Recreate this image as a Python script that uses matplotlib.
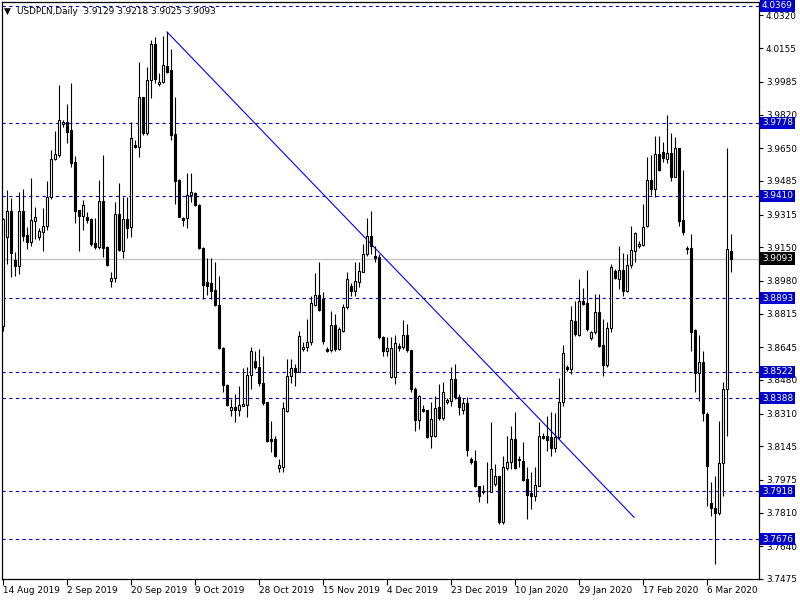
import numpy as np
import matplotlib.pyplot as plt

# daily OHLC, USDPLN, 14 Aug 2019 .. 10 Mar 2020
opens = [
    3.8752, 3.9200, 3.9331, 3.9084, 3.9054, 3.9331, 3.9210, 3.9175, 3.9280, 3.9200,
    3.9225, 3.9255, 3.9406, 3.9597, 3.9618, 3.9774, 3.9784, 3.9743, 3.9582, 3.9336,
    3.9310, 3.9305, 3.9290, 3.9169, 3.9149, 3.9381, 3.9149, 3.8978, 3.8993, 3.9320,
    3.9129, 3.9290, 3.9250, 3.9668, 3.9658, 3.9910, 3.9728, 3.9995, 4.0177, 3.9975,
    3.9985, 4.0066, 4.0045, 3.9723, 3.9487, 3.9295, 3.9295, 3.9416, 3.9426, 3.9361,
    3.9144, 3.8973, 3.8968, 3.8933, 3.8857, 3.8641, 3.8454, 3.8329, 3.8344, 3.8329,
    3.8349, 3.8354, 3.8505, 3.8575, 3.8545, 3.8464, 3.8369, 3.8183, 3.8183, 3.8037,
    3.8042, 3.8324, 3.8500, 3.8540, 3.8520, 3.8636, 3.8646, 3.8671, 3.8857, 3.8908,
    3.8888, 3.8636, 3.8631, 3.8757, 3.8636, 3.8726, 3.8847, 3.8953, 3.8928, 3.8973,
    3.9023, 3.9114, 3.9205, 3.9104, 3.9099, 3.8696, 3.8626, 3.8495, 3.8495, 3.8651,
    3.8646, 3.8706, 3.8631, 3.8434, 3.8278, 3.8334, 3.8329, 3.8198, 3.8198, 3.8344,
    3.8288, 3.8369, 3.8374, 3.8485, 3.8394, 3.8329, 3.8364, 3.8082, 3.8072, 3.7946,
    3.7921, 3.7921, 3.7916, 3.7956, 3.7997, 3.7765, 3.8037, 3.8067, 3.8183, 3.8082,
    3.8072, 3.7981, 3.7911, 3.7896, 3.7946, 3.8198, 3.8198, 3.8193, 3.8137, 3.8193,
    3.8369, 3.8545, 3.8535, 3.8777, 3.8706, 3.8877, 3.8867, 3.8691, 3.8721, 3.8822,
    3.8656, 3.8555, 3.8741, 3.9028, 3.8988, 3.9033, 3.8928, 3.9059, 3.9129, 3.9154,
    3.9159, 3.9255, 3.9487, 3.9446, 3.9623, 3.9633, 3.9597, 3.9628, 3.9502, 3.9653,
    3.9285, 3.9144, 3.9144, 3.8731, 3.8515, 3.8570, 3.8308, 3.7860, 3.7835, 3.7810,
    3.8062, 3.8434, 3.9129,
]
highs = [
    3.9300, 3.9441, 3.9401, 3.9124, 3.9431, 3.9446, 3.9250, 3.9497, 3.9351, 3.9245,
    3.9346, 3.9482, 3.9643, 3.9738, 3.9970, 3.9794, 3.9874, 3.9980, 3.9613, 3.9336,
    3.9386, 3.9326, 3.9295, 3.9295, 3.9487, 3.9618, 3.9154, 3.9023, 3.9376, 3.9472,
    3.9406, 3.9406, 3.9784, 3.9693, 4.0086, 3.9910, 4.0061, 4.0197, 4.0212, 4.0030,
    4.0217, 4.0237, 4.0151, 3.9910, 3.9492, 3.9305, 3.9527, 3.9527, 3.9431, 3.9366,
    3.9149, 3.9094, 3.9094, 3.9074, 3.9003, 3.8646, 3.8459, 3.8384, 3.8409, 3.8449,
    3.8540, 3.8545, 3.8646, 3.8626, 3.8636, 3.8600, 3.8369, 3.8273, 3.8198, 3.8082,
    3.8369, 3.8585, 3.8585, 3.8560, 3.8726, 3.8671, 3.8787, 3.8903, 3.9018, 3.9074,
    3.8923, 3.8646, 3.8827, 3.8812, 3.8746, 3.8862, 3.9023, 3.8968, 3.9074, 3.9074,
    3.9164, 3.9300, 3.9331, 3.9154, 3.9114, 3.8701, 3.8696, 3.8696, 3.8706, 3.8666,
    3.8782, 3.8762, 3.8631, 3.8444, 3.8404, 3.8354, 3.8329, 3.8369, 3.8399, 3.8459,
    3.8469, 3.8389, 3.8545, 3.8560, 3.8409, 3.8389, 3.8394, 3.8092, 3.8127, 3.7946,
    3.7951, 3.8067, 3.8268, 3.8057, 3.7997, 3.8097, 3.8198, 3.8248, 3.8318, 3.8097,
    3.8168, 3.8042, 3.8017, 3.8042, 3.8268, 3.8213, 3.8299, 3.8318, 3.8313, 3.8490,
    3.8656, 3.8555, 3.8852, 3.8877, 3.8988, 3.8943, 3.9033, 3.8726, 3.8913, 3.8913,
    3.8787, 3.8772, 3.9064, 3.9038, 3.9154, 3.9119, 3.9114, 3.9255, 3.9225, 3.9180,
    3.9366, 3.9608, 3.9618, 3.9713, 3.9713, 3.9683, 3.9819, 3.9728, 3.9708, 3.9653,
    3.9542, 3.9154, 3.9215, 3.8736, 3.8706, 3.8626, 3.8318, 3.7966, 3.7997, 3.8273,
    3.8469, 3.9653, 3.9218,
]
lows = [
    3.8726, 3.9064, 3.8998, 3.9003, 3.9013, 3.9180, 3.9139, 3.9154, 3.9190, 3.9185,
    3.9129, 3.9235, 3.9391, 3.9592, 3.9608, 3.9759, 3.9678, 3.9557, 3.9270, 3.9129,
    3.9235, 3.9270, 3.9154, 3.9139, 3.9139, 3.9099, 3.9054, 3.8948, 3.8973, 3.9129,
    3.9094, 3.9195, 3.9200, 3.9653, 3.9608, 3.9718, 3.9718, 3.9905, 3.9980, 3.9965,
    3.9980, 4.0030, 3.9693, 3.9366, 3.9305, 3.9255, 3.9245, 3.9376, 3.9356, 3.9139,
    3.8888, 3.8908, 3.8888, 3.8852, 3.8636, 3.8419, 3.8349, 3.8299, 3.8268, 3.8299,
    3.8349, 3.8294, 3.8434, 3.8535, 3.8449, 3.8354, 3.8168, 3.8117, 3.8092, 3.8017,
    3.8017, 3.8318, 3.8464, 3.8449, 3.8520, 3.8626, 3.8626, 3.8656, 3.8852, 3.8827,
    3.8661, 3.8621, 3.8621, 3.8626, 3.8631, 3.8721, 3.8837, 3.8903, 3.8903, 3.8948,
    3.9023, 3.9104, 3.9114, 3.9074, 3.8686, 3.8600, 3.8600, 3.8490, 3.8459, 3.8626,
    3.8636, 3.8621, 3.8419, 3.8223, 3.8233, 3.8318, 3.8188, 3.8137, 3.8193, 3.8278,
    3.8278, 3.8359, 3.8349, 3.8384, 3.8303, 3.8308, 3.8097, 3.8057, 3.7941, 3.7865,
    3.7906, 3.7860, 3.7916, 3.7946, 3.7755, 3.7755, 3.8027, 3.8032, 3.8032, 3.8042,
    3.7971, 3.7780, 3.7830, 3.7870, 3.7946, 3.8183, 3.8122, 3.8097, 3.8117, 3.8183,
    3.8349, 3.8525, 3.8510, 3.8701, 3.8701, 3.8857, 3.8726, 3.8681, 3.8711, 3.8646,
    3.8500, 3.8545, 3.8721, 3.8988, 3.8938, 3.8903, 3.8923, 3.9044, 3.9074, 3.9144,
    3.9154, 3.9250, 3.9416, 3.9406, 3.9537, 3.9582, 3.9577, 3.9482, 3.9502, 3.9255,
    3.9210, 3.9114, 3.8626, 3.8419, 3.8374, 3.8273, 3.7845, 3.7795, 3.7553, 3.7800,
    3.7896, 3.8198, 3.9025,
]
closes = [
    3.9290, 3.9331, 3.9119, 3.9054, 3.9331, 3.9205, 3.9175, 3.9285, 3.9305, 3.9230,
    3.9255, 3.9406, 3.9597, 3.9623, 3.9794, 3.9784, 3.9733, 3.9577, 3.9331, 3.9310,
    3.9361, 3.9285, 3.9164, 3.9149, 3.9381, 3.9144, 3.9059, 3.8993, 3.9320, 3.9134,
    3.9290, 3.9245, 3.9703, 3.9658, 3.9910, 3.9728, 3.9995, 4.0177, 4.0000, 3.9985,
    4.0071, 4.0035, 3.9718, 3.9482, 3.9305, 3.9285, 3.9416, 3.9431, 3.9361, 3.9144,
    3.8958, 3.8953, 3.8928, 3.8857, 3.8641, 3.8454, 3.8354, 3.8344, 3.8329, 3.8354,
    3.8359, 3.8505, 3.8626, 3.8545, 3.8464, 3.8364, 3.8173, 3.8173, 3.8097, 3.8052,
    3.8339, 3.8500, 3.8540, 3.8520, 3.8701, 3.8646, 3.8671, 3.8867, 3.8908, 3.8832,
    3.8676, 3.8626, 3.8757, 3.8636, 3.8736, 3.8847, 3.8988, 3.8928, 3.8978, 3.9028,
    3.9114, 3.9205, 3.9154, 3.9094, 3.8696, 3.8626, 3.8641, 3.8641, 3.8666, 3.8641,
    3.8706, 3.8631, 3.8434, 3.8278, 3.8399, 3.8324, 3.8193, 3.8283, 3.8339, 3.8288,
    3.8419, 3.8379, 3.8485, 3.8394, 3.8344, 3.8364, 3.8127, 3.8067, 3.7946, 3.7896,
    3.7916, 3.7918, 3.8032, 3.7997, 3.7765, 3.8042, 3.8067, 3.8183, 3.8037, 3.8077,
    3.7976, 3.7901, 3.7896, 3.7951, 3.8198, 3.8188, 3.8178, 3.8137, 3.8193, 3.8369,
    3.8616, 3.8535, 3.8782, 3.8711, 3.8877, 3.8862, 3.8736, 3.8721, 3.8822, 3.8651,
    3.8555, 3.8741, 3.9049, 3.8993, 3.9033, 3.8928, 3.9059, 3.9134, 3.9220, 3.9164,
    3.9250, 3.9487, 3.9446, 3.9623, 3.9542, 3.9602, 3.9628, 3.9507, 3.9653, 3.9280,
    3.9225, 3.9141, 3.8721, 3.8515, 3.8570, 3.8313, 3.8047, 3.7835, 3.7810, 3.8062,
    3.8434, 3.9139, 3.9093,
]

# horizontal levels and the trend line (bar index, price)
levels = [4.0369, 3.9778, 3.9410, 3.8893, 3.8522, 3.8388, 3.7918, 3.7676]
last_price = 3.9093
trend_x = [41, 157.75]
trend_y = [4.0237, 3.7787]

price_ticks = [4.0320, 4.0155, 3.9985, 3.9820, 3.9650, 3.9485, 3.9315, 3.9150,
               3.8980, 3.8815, 3.8645, 3.8480, 3.8310, 3.8145, 3.7975, 3.7810,
               3.7640, 3.7475]
date_labels = ["14 Aug 2019", "2 Sep 2019", "20 Sep 2019", "9 Oct 2019",
               "28 Oct 2019", "15 Nov 2019", "4 Dec 2019", "23 Dec 2019",
               "10 Jan 2020", "29 Jan 2020", "17 Feb 2020", "6 Mar 2020"]
date_every = 16

o, h, l, c = map(np.array, (opens, highs, lows, closes))
x = np.arange(len(o))

fig = plt.figure(figsize=(8, 6), dpi=100)
ax = fig.add_axes([2 / 800, 21 / 600, 757 / 800, 577 / 600])

# candles
ax.vlines(x, l, h, color="black", lw=0.8, zorder=3)
up = c >= o
ax.bar(x, np.abs(c - o), bottom=np.minimum(o, c), width=0.5,
       color=np.where(up, "white", "black"), edgecolor="black",
       linewidth=0.8, zorder=4)

# levels
for lv in levels:
    ax.axhline(lv, color="#0000cc", lw=0.8, ls=(0, (3, 3)), zorder=2)
    ax.annotate(f"{lv:.4f}", xy=(1.004, lv), xycoords=("axes fraction", "data"),
                va="center", ha="left", fontsize=6.4, color="white",
                annotation_clip=False, zorder=10,
                bbox=dict(boxstyle="square,pad=0.18", fc="#0000cc", ec="none"))
ax.axhline(last_price, color="#c0c0c0", lw=0.9, zorder=1)
ax.annotate(f"{last_price:.4f}", xy=(1.004, last_price),
            xycoords=("axes fraction", "data"), va="center", ha="left",
            fontsize=6.4, color="white", annotation_clip=False, zorder=10,
            bbox=dict(boxstyle="square,pad=0.18", fc="black", ec="none"))

ax.plot(trend_x, trend_y, color="#0000ff", lw=0.8, zorder=2)

ax.set_xlim(-0.25, 189)
ax.set_ylim(3.7483, 4.0388)

ax.yaxis.tick_right()
ax.set_yticks(price_ticks)
ax.set_yticklabels([f"{p:.4f}" for p in price_ticks], fontsize=6.4)
ax.tick_params(axis="y", direction="out", length=3, width=0.8, pad=2)

ax.set_xticks(np.arange(len(date_labels)) * date_every)
ax.set_xticklabels(date_labels, fontsize=6.4, ha="left")
ax.tick_params(axis="x", direction="out", length=4, width=0.8, pad=1)

for s in ax.spines.values():
    s.set_linewidth(0.9)

fig.text(4 / 800, 1 - 11 / 600, "\u25bc", fontsize=6.5, va="center")
fig.text(17 / 800, 1 - 11 / 600, "USDPLN,Daily  3.9129 3.9218 3.9025 3.9093",
         fontsize=6.4, va="center")

fig.savefig("out.png", dpi=100)
